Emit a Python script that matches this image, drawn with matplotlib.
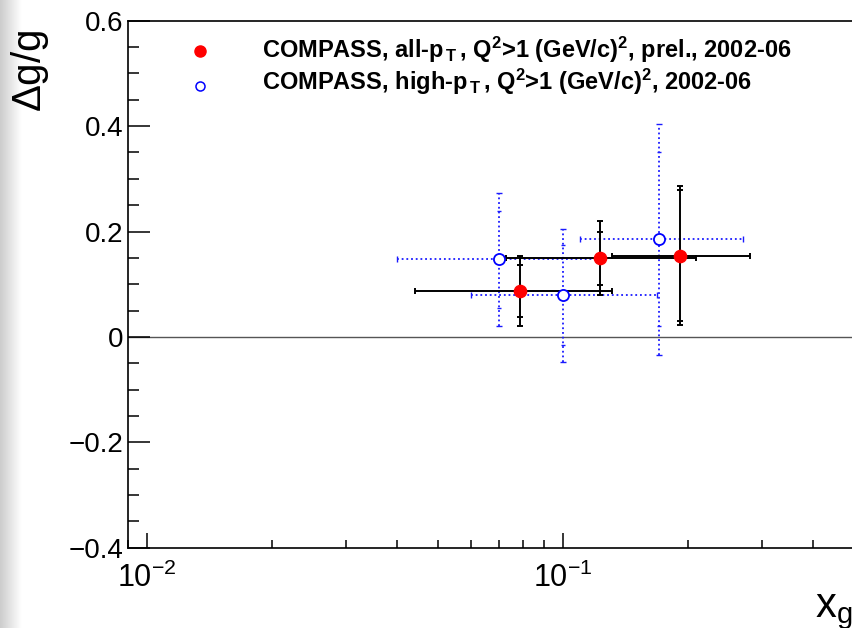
import numpy as np
import matplotlib.pyplot as plt
from matplotlib import ticker

plt.rcParams['font.family'] = ['Liberation Sans', 'DejaVu Sans']
plt.rcParams['mathtext.fontset'] = 'custom'
plt.rcParams['mathtext.rm'] = 'Liberation Sans'
plt.rcParams['mathtext.it'] = 'Liberation Sans:italic'
plt.rcParams['mathtext.bf'] = 'Liberation Sans:bold'

# COMPASS, all-pT, Q^2>1, prel., 2002-06
allpt_x = [0.079, 0.123, 0.191]
allpt_xlo = [0.044, 0.073, 0.131]
allpt_xhi = [0.131, 0.209, 0.281]
allpt_y = [0.087, 0.149, 0.154]
allpt_stat = [0.050, 0.051, 0.124]
allpt_tot = [0.067, 0.070, 0.132]

# COMPASS, high-pT, Q^2>1, 2002-06
highpt_x = [0.070, 0.100, 0.170]
highpt_xlo = [0.040, 0.060, 0.110]
highpt_xhi = [0.121, 0.168, 0.271]
highpt_y = [0.147, 0.079, 0.185]
highpt_stat = [0.092, 0.095, 0.165]
highpt_tot = [0.127, 0.126, 0.219]

legend_labels = [
    r"COMPASS, all-p$_{\,\mathbf{T}}\,$, Q$^{\mathbf{2}}$>1 (GeV/c)$^{\mathbf{2}}$, prel., 2002-06",
    r"COMPASS, high-p$_{\,\mathbf{T}}\,$, Q$^{\mathbf{2}}$>1 (GeV/c)$^{\mathbf{2}}$, 2002-06",
]

W, H = 852, 628
fig = plt.figure(figsize=(W / 100, H / 100), dpi=100)

# page shadow strip on the left
sh = fig.add_axes([0, 0, 22 / W, 1])
grad = np.linspace(0.80, 1.0, 64)[None, :]
sh.imshow(grad, cmap='gray', vmin=0, vmax=1, aspect='auto', extent=[0, 1, 0, 1])
sh.axis('off')

xmin, xmax = 0.009, 0.5
px_per_dec = 416
ax_l, ax_b, ax_t = 128, 547.7, 20.7
ax_w = (np.log10(xmax) - np.log10(xmin)) * px_per_dec
ax = fig.add_axes([ax_l / W, (H - ax_b) / H, ax_w / W, (ax_b - ax_t) / H])
ax.set_xscale('log')
ax.set_xlim(xmin, xmax)
ax.set_ylim(-0.4, 0.6)

ax.axhline(0, color='#555555', lw=1.0, zorder=1)

def asym(c, lo, hi):
    c, lo, hi = map(np.asarray, (c, lo, hi))
    return [c - lo, hi - c]

# high-pT: dotted blue errors, open markers
hx, hy = np.array(highpt_x), np.array(highpt_y)
e = ax.errorbar(hx, hy, xerr=asym(hx, highpt_xlo, highpt_xhi),
                yerr=highpt_tot, fmt='none', ecolor='#1a1aff', elinewidth=1.3,
                capsize=2, capthick=1.0, zorder=2)
for lc in e[2]:
    lc.set_linestyle((0, (1, 1.6)))
e = ax.errorbar(hx, hy, yerr=highpt_stat, fmt='none', ecolor='#1a1aff',
                elinewidth=0, capsize=1.5, capthick=1.0, zorder=2)
ax.plot(hx, hy, 'o', ms=8, mfc='white', mec='#0000ff', mew=1.3, zorder=4,
        ls='none')

# all-pT: solid black errors, full red markers
ax_x, ax_y = np.array(allpt_x), np.array(allpt_y)
ax.errorbar(ax_x, ax_y, xerr=asym(ax_x, allpt_xlo, allpt_xhi), yerr=allpt_tot,
            fmt='none', ecolor='black', elinewidth=1.4, capsize=2.5,
            capthick=1.4, zorder=3)
ax.errorbar(ax_x, ax_y, yerr=allpt_stat, fmt='none', ecolor='black',
            elinewidth=0, capsize=2.5, capthick=1.4, zorder=3)
ax.plot(ax_x, ax_y, 'o', ms=8.8, color='#ff0000', mec='#ff0000', zorder=5,
        ls='none')

# legend drawn by hand
def fy(py):
    return 1 - (py - ax_t) / (ax_b - ax_t)
def fx(px):
    return (px - ax_l) / ax_w
ax.plot([fx(200)], [fy(51)], 'o', ms=8, color='#ff0000', transform=ax.transAxes,
        clip_on=False)
ax.plot([fx(200)], [fy(86)], 'o', ms=6.5, mfc='white', mec='#0000ff', mew=1.1,
        transform=ax.transAxes, clip_on=False)
ax.text(fx(262), fy(57.5), legend_labels[0], transform=ax.transAxes,
        fontsize=17, fontweight='bold', va='baseline', ha='left')
ax.text(fx(262), fy(89.5), legend_labels[1], transform=ax.transAxes,
        fontsize=17, fontweight='bold', va='baseline', ha='left')

# axes styling
for s in ['left', 'bottom', 'top']:
    ax.spines[s].set_linewidth(1.2)
ax.spines['right'].set_visible(False)

ax.xaxis.set_major_locator(ticker.FixedLocator([0.01, 0.1]))
ax.xaxis.set_major_formatter(ticker.LogFormatterSciNotation())
ax.xaxis.set_minor_locator(ticker.LogLocator(subs=np.arange(2, 10)))
ax.xaxis.set_minor_formatter(ticker.NullFormatter())
ax.yaxis.set_major_locator(ticker.MultipleLocator(0.2))
ax.yaxis.set_minor_locator(ticker.MultipleLocator(0.05))
ax.yaxis.set_major_formatter(ticker.FuncFormatter(
    lambda v, p: '0' if abs(v) < 1e-9 else f'{v:.1f}'.replace('-', '\u2212')))

ax.tick_params(axis='x', which='major', direction='in', length=11, width=1.1,
               labelsize=22, pad=11, top=False)
ax.tick_params(axis='x', which='minor', direction='in', length=6, width=1.1,
               top=False)
ax.tick_params(axis='y', which='major', direction='in', length=16, width=1.1,
               labelsize=20, pad=3.4, right=False)
ax.tick_params(axis='y', which='minor', direction='in', length=8, width=1.1,
               right=False)

fig.text(30 / W, 1 - 30 / H, r'$\Delta$g/g', rotation=90, ha='center',
         va='top', fontsize=29)
fig.text(815 / W, 1 - 617 / H, r'x$_{\mathrm{g}}$', ha='left', va='baseline',
         fontsize=30)

fig.savefig('out.png', dpi=100)
